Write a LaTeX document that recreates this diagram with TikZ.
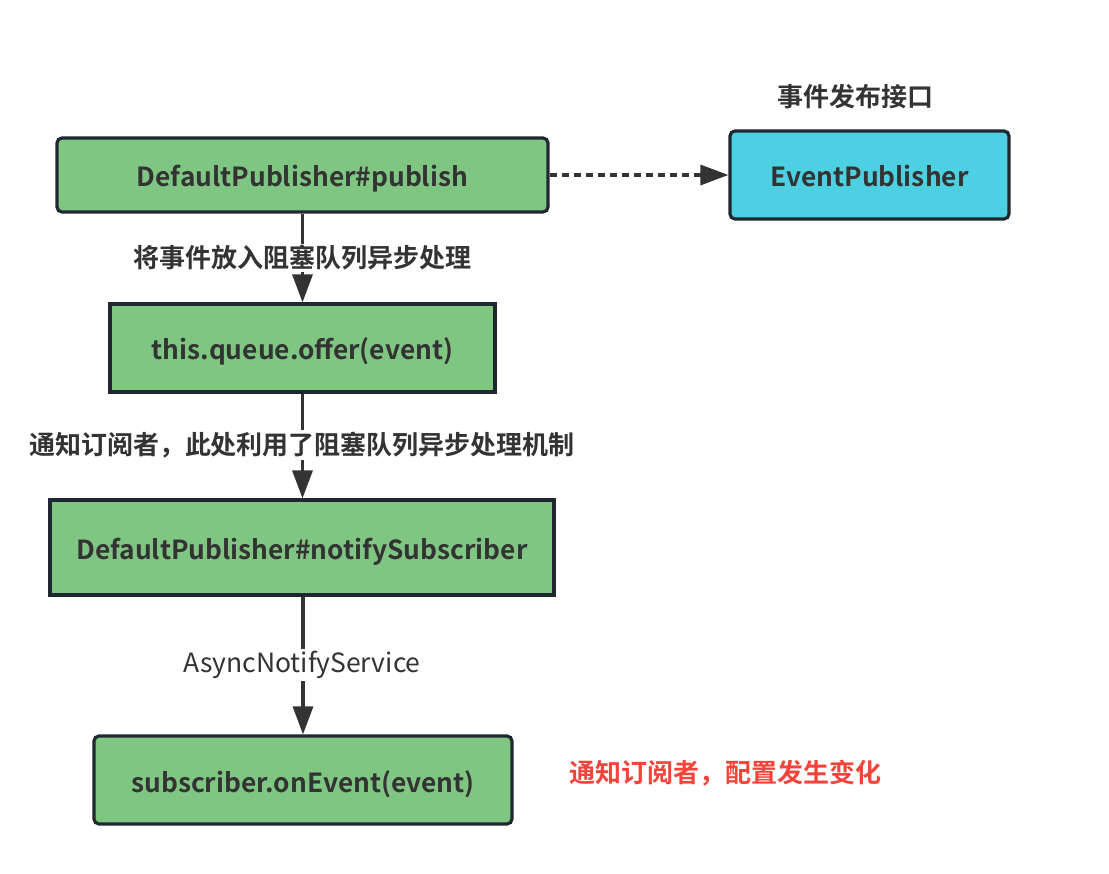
\documentclass[tikz,border=0pt]{standalone}
\usepackage{fontspec}
\setmainfont{Noto Sans CJK SC}[BoldFont={Noto Sans CJK SC Bold}]
\usetikzlibrary{arrows.meta}
\definecolor{boxgreen}{HTML}{80C683}
\definecolor{boxcyan}{HTML}{4DD0E1}
\definecolor{edgedark}{HTML}{1F2830}
\definecolor{txt}{HTML}{333333}
\definecolor{redtxt}{HTML}{F4433A}
\tikzset{
  box/.style={draw=edgedark, line width=3.2pt, fill=boxgreen, inner sep=0pt, text=txt,
    text height=27pt, text depth=3pt,
    font=\fontsize{26.3}{30}\selectfont\bfseries},
  rbox/.style={box, rounded corners=5pt},
  lbl/.style={fill=white, inner sep=2pt, text=txt, font=\fontsize{26}{30}\selectfont\bfseries},
  conn/.style={draw=txt, line width=3.2pt, -{Triangle[length=28pt,width=20pt]}},
}
\begin{document}
\begin{tikzpicture}[x=1pt,y=-1pt]
\useasboundingbox (0,0) rectangle (1109,874);
\node[rbox, minimum width=491pt, minimum height=74pt] (pub) at (302.5,175) {DefaultPublisher\#publish};
\node[rbox, fill=boxcyan, minimum width=279pt, minimum height=88pt] (ep) at (869.5,175) {EventPublisher};
\node[lbl, fill=none] (eplbl) at (855,97) {事件发布接口};
\node[box, minimum width=385pt, minimum height=88pt] (offer) at (302.5,348) {this.queue.offer(event)};
\node[box, minimum width=504pt, minimum height=95pt] (notify) at (302,547.5) {DefaultPublisher\#notifySubscriber};
\node[rbox, minimum width=418pt, minimum height=88pt] (sub) at (303,780) {subscriber.onEvent(event)};
\node[lbl, fill=none, text=redtxt] (red) at (725,773) {通知订阅者，配置发生变化};

\draw[conn] (pub.south -| offer.north) -- (offer.north);
\node[lbl] (l1) at (302,258) {将事件放入阻塞队列异步处理};
\draw[conn] (offer.south) -- (offer.south |- notify.north);
\node[lbl] (l2) at (302,445) {通知订阅者，此处利用了阻塞队列异步处理机制};
\draw[conn] (notify.south -| sub.north) -- (sub.north);
\node[lbl, font=\fontsize{26.5}{30}\selectfont] (l3) at (302,665) {AsyncNotifyService};
\draw[conn, dash pattern=on 7pt off 5pt] (pub.east) -- (ep.west);
\end{tikzpicture}
\end{document}
